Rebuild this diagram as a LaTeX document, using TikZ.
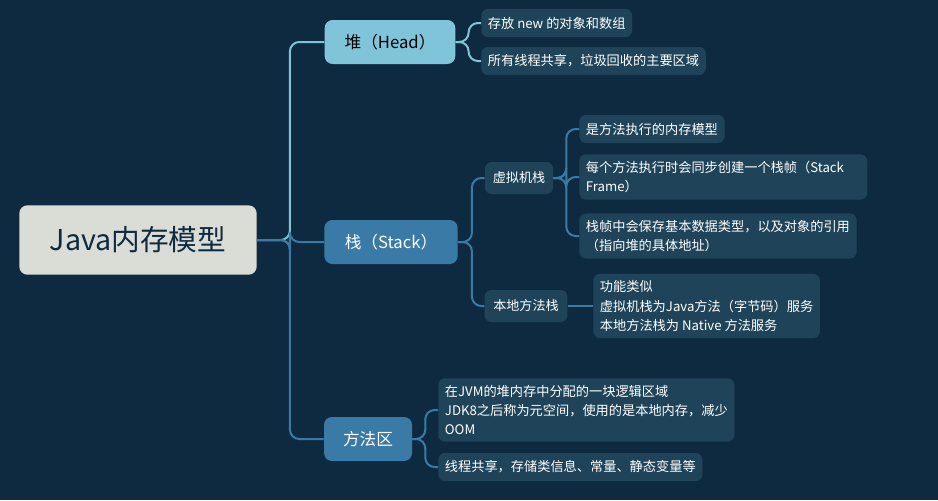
\documentclass[tikz,border=0pt]{standalone}
\usepackage{fontspec}
\setmainfont{Noto Sans CJK SC}
\usetikzlibrary{positioning}
\definecolor{bgc}{HTML}{0E2A40}
\definecolor{rootc}{HTML}{DADCD6}
\definecolor{heapc}{HTML}{7FC4D8}
\definecolor{stackc}{HTML}{3A7AA6}
\definecolor{leafc}{HTML}{1F4459}
\begin{document}
\begin{tikzpicture}[x=0.75pt,y=-0.75pt]
        \tikzstyle{topic}=[rounded corners=6pt,inner sep=0pt,minimum height=33pt,font=\fontsize{12.5}{14}\selectfont]
        \tikzstyle{sub}=[rounded corners=5pt,fill=leafc,text=white,inner sep=0pt,minimum height=24pt,font=\fontsize{9.8}{11}\selectfont]
        \tikzstyle{leaf}=[rounded corners=5pt,fill=leafc,text=white,anchor=west,align=left,inner xsep=5pt,inner ysep=5pt,minimum height=21pt,font=\fontsize{9.9}{14.5}\selectfont]
        \tikzstyle{link}=[draw=stackc,line width=1.5pt,rounded corners=7pt]

        \fill[bgc] (0,0) rectangle (938,500);

        \node [fill=rootc,rounded corners=6pt,minimum width=178pt,minimum height=52pt,font=\fontsize{21.5}{24}\selectfont,text=bgc] (root) at (138,240) {Java内存模型};

        \node [topic,fill=heapc,text=black,minimum width=98pt] (heap) at (390,42) {堆（Head）};
        \node [topic,fill=stackc,text=white,minimum width=100pt] (stack) at (391,242) {栈（Stack）};
        \node [topic,fill=stackc,text=white,minimum width=66pt] (area) at (368,439) {方法区};

        \node [leaf] (h1) at (481,23) {存放 new 的对象和数组};
        \node [leaf] (h2) at (481,61) {所有线程共享，垃圾回收的主要区域};

        \node [sub,minimum width=51pt] (vm) at (519,178) {虚拟机栈};
        \node [sub,minimum width=62pt] (native) at (526,306) {本地方法栈};

        \node [leaf] (v1) at (579,129) {是方法执行的内存模型};
        \node [leaf,text width=206pt] (v2) at (579,177) {每个方法执行时会同步创建一个栈帧（Stack Frame）};
        \node [leaf] (v3) at (579,236) {栈帧中会保存基本数据类型，以及对象的引用\\（指向堆的具体地址）};
        \node [leaf] (n1) at (593,306) {功能类似\\虚拟机栈为Java方法（字节码）服务\\本地方法栈为 Native 方法服务};

        \node [leaf] (a1) at (438,410) {在JVM的堆内存中分配的一块逻辑区域\\JDK8之后称为元空间，使用的是本地内存，减少\\OOM};
        \node [leaf] (a2) at (438,467) {线程共享，存储类信息、常量、静态变量等};

        \draw [link,draw=heapc] (root.east) -- ++(33,0) |- (heap.west);
        \draw [link] (root.east) -- ++(33,0) |- (stack.west);
        \draw [link] (root.east) -- ++(33,0) |- (area.west);

        \draw [link,draw=heapc] (heap.east) -- ++(13,0) |- (h1.west);
        \draw [link,draw=heapc] (heap.east) -- ++(13,0) |- (h2.west);

        \draw [link] (stack.east) -- ++(14,0) |- (vm.west);
        \draw [link] (stack.east) -- ++(14,0) |- (native.west);

        \draw [link] (vm.east) -- ++(13,0) |- (v1.west);
        \draw [link] (vm.east) -- ++(13,0) |- (v2.west);
        \draw [link] (vm.east) -- ++(13,0) |- (v3.west);
        \draw [link] (native.east) -- (n1.west);

        \draw [link] (area.east) -- ++(13,0) |- (a1.west);
        \draw [link] (area.east) -- ++(13,0) |- (a2.west);
\end{tikzpicture}
\end{document}
